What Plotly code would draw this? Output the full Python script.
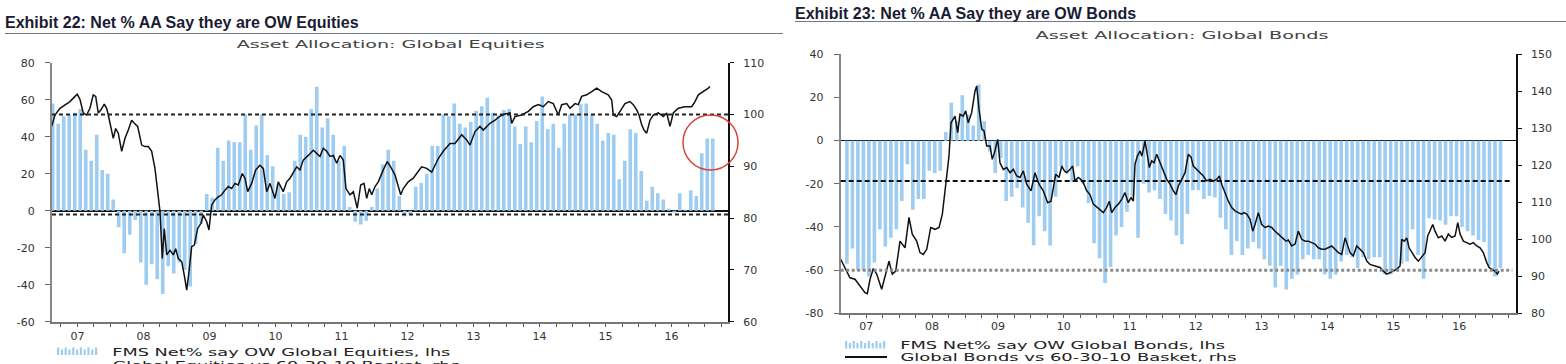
import pandas as pd
import plotly.graph_objects as go

W, H = 1566, 364

# ---------------- data ----------------
eq_months = pd.period_range("2007-02", "2017-02", freq="M")
eq_net_ow = [58, 47, 51, 52, 53, 55, 33, 27, 41, 22, 20, 6,
             -9, -23, -13, -5, -28, -40, -29, -37, -45, -30, -34, -28,
             -32, -41, -18, -7, 9, 7, 34, 27, 38, 37, 37, 52,
             33, 46, 52, 30, 24, 14, 9, 10, 27, 41, 40, 55,
             67, 45, 50, 41, 27, 35, 2, -6, -7.5, -5.5, 2, 12,
             25, 33, 27, 8, -3, -2, 13, 15, 20, 35, 35, 52,
             51, 58, 47, 45, 48, 54, 56.5, 61, 53, 51.5, 54.5, 55,
             45.5, 36, 45.5, 37, 48.5, 61.7, 44, 47, 34, 47, 52, 52,
             57.5, 58, 52, 47, 38, 42, 41, 17, 27, 44, 42, 21.5,
             5.4, 13, 9.4, 6, 1, -1, 9.4, 0.5, 11, 8, 31, 39,
             39]

eq_line_t = [2007.109, 2007.159, 2007.235, 2007.311, 2007.386, 2007.462, 2007.497, 2007.538, 2007.588, 2007.639,
             2007.689, 2007.739, 2007.776, 2007.815, 2007.856, 2007.906, 2007.942, 2007.967, 2008.008, 2008.042,
             2008.079, 2008.118, 2008.170, 2008.220, 2008.270, 2008.321, 2008.361, 2008.412, 2008.473, 2008.523,
             2008.573, 2008.624, 2008.674, 2008.715, 2008.750, 2008.785, 2008.815, 2008.852, 2008.902, 2008.952,
             2008.988, 2009.027, 2009.079, 2009.118, 2009.155, 2009.189, 2009.230, 2009.270, 2009.321, 2009.371,
             2009.406, 2009.458, 2009.492, 2009.533, 2009.583, 2009.633, 2009.685, 2009.735, 2009.785, 2009.836,
             2009.886, 2009.936, 2009.997, 2010.038, 2010.079, 2010.139, 2010.200, 2010.265, 2010.315, 2010.367,
             2010.417,
             2010.492, 2010.542, 2010.618, 2010.670, 2010.720, 2010.770, 2010.821, 2010.871, 2010.921, 2010.997,
             2011.073, 2011.124, 2011.174, 2011.224, 2011.276, 2011.326, 2011.376, 2011.427, 2011.477, 2011.527,
             2011.568, 2011.629, 2011.679, 2011.739, 2011.791, 2011.841, 2011.882, 2011.921, 2011.958, 2012.008,
             2012.058, 2012.133, 2012.194, 2012.245, 2012.311, 2012.397, 2012.436, 2012.512, 2012.588, 2012.639,
             2012.715, 2012.791, 2012.867, 2012.967, 2013.042, 2013.144, 2013.220, 2013.321, 2013.397, 2013.447,
             2013.523, 2013.598, 2013.648, 2013.750, 2013.826, 2013.891,
             2013.977, 2014.053, 2014.079, 2014.129, 2014.230, 2014.330, 2014.406, 2014.482, 2014.558, 2014.633,
             2014.709, 2014.785, 2014.836, 2014.912, 2014.962, 2015.038, 2015.088, 2015.139, 2015.215, 2015.291,
             2015.367, 2015.442, 2015.542, 2015.594, 2015.618, 2015.670, 2015.720, 2015.795, 2015.871, 2015.921,
             2015.973, 2016.008, 2016.048, 2016.083, 2016.124, 2016.174, 2016.224, 2016.300, 2016.376, 2016.427,
             2016.477, 2016.527, 2016.603, 2016.705, 2016.806, 2016.856, 2016.906, 2016.982, 2017.058, 2017.083]
eq_line_v = [97.7, 99.9, 101.2, 101.8, 102.5, 103.5, 103.9, 102.9, 100.3, 99.9,
             101.2, 103.8, 103.5, 100.3, 100.9, 102.0, 101.2, 99.9, 97.0, 95.4,
             97.3, 96.4, 92.9, 95.4, 97.0, 98.9, 98.3, 97.7, 94.1, 93.8,
             93.8, 92.9, 89.6, 85.7, 81.3, 72.2, 78.0, 72.9, 73.8, 72.9,
             74.1, 72.2, 71.6, 69.0, 66.1, 69.6, 74.5, 74.8, 78.0, 79.0,
             80.6, 79.3, 77.7, 82.5, 83.5, 84.1, 84.5, 85.4, 86.1, 85.7,
             86.7, 86.4, 88.6, 87.7, 85.1, 86.7, 89.3, 90.2, 89.6, 85.1,
             86.7,
             83.8, 87.0, 85.1, 87.0, 87.7, 88.9, 89.9, 89.3, 91.2, 92.1,
             93.1, 92.5, 91.9, 93.5, 92.9, 91.9, 92.1, 90.6, 92.1, 91.2,
             85.7, 84.5, 85.1, 81.9, 86.4, 86.7, 83.8, 85.7, 84.5, 86.1,
             87.0, 89.3, 90.9, 89.9, 88.3, 84.5, 85.7, 87.0, 87.7, 88.6,
             89.9, 89.6, 88.9, 91.5, 92.9, 94.4, 94.4, 96.1, 95.1, 94.1,
             96.7, 97.7, 97.0, 98.3, 98.9, 99.6,
             100.1, 100.3, 98.3, 99.6, 99.9, 100.6, 101.5, 101.9, 101.5, 102.5,
             102.1, 99.9, 101.9, 102.1, 101.2, 102.1, 101.9, 103.5, 103.8, 104.4,
             105.1, 104.4, 103.8, 102.8, 99.9, 99.6, 100.6, 102.1, 102.5, 101.9,
             100.9, 99.9, 98.0, 97.0, 96.4, 98.9, 99.9, 100.3, 99.6, 100.3,
             97.7, 100.3, 101.2, 101.5, 101.5, 102.5, 103.8, 104.4, 105.1, 105.4]

bd_months = pd.period_range("2007-03", "2017-02", freq="M")
bd_net_ow = [-57, -50, -60, -60, -63, -56.5, -41, -49, -45, -41, -28, -11,
             -32, -27, -27, -14, -15, -14, 4, 17.5, 9, 21, 12, 7,
             26, 9, -5, -15, -8, -28, -26, -22, -31, -38, -48.5, -35,
             -42, -48.6, -26, -12, -15, -19, -12, -20, -29, -47.6, -54.5, -66,
             -58.5, -44, -40, -33, -26, -45, -20, -24, -23, -27, -34, -37,
             -44, -48, -34, -23, -23, -27, -25.6, -26.4, -35.7, -41, -53, -46.5,
             -53, -50, -47, -50, -55, -58, -68, -58, -69, -64, -62, -55,
             -53, -55, -55, -62, -64, -62, -56, -53, -54, -59, -54, -55,
             -54, -54, -62, -62, -60, -57, -56, -41, -53, -64, -36, -36.5,
             -37, -39, -35, -35, -40, -42, -44, -46, -47, -58, -63, -59]

bd_line_t = [2007.114, 2007.179, 2007.255, 2007.331, 2007.407, 2007.483, 2007.518, 2007.559, 2007.609, 2007.660,
             2007.736, 2007.786, 2007.847, 2007.897, 2007.949, 2008.014, 2008.090, 2008.150, 2008.200, 2008.267,
             2008.317, 2008.367, 2008.419, 2008.480, 2008.545, 2008.606, 2008.656, 2008.697, 2008.722, 2008.757,
             2008.788, 2008.823, 2008.848, 2008.889, 2008.924, 2008.974, 2009.011, 2009.050, 2009.102, 2009.152,
             2009.178, 2009.213, 2009.254, 2009.289, 2009.329, 2009.380, 2009.414, 2009.455, 2009.496, 2009.531,
             2009.581, 2009.633, 2009.683, 2009.733, 2009.785, 2009.835, 2009.885, 2009.936, 2010.002, 2010.062,
             2010.123, 2010.188, 2010.255, 2010.305, 2010.340, 2010.377, 2010.427, 2010.468, 2010.507,
             2010.543, 2010.594, 2010.634, 2010.669, 2010.719, 2010.756, 2010.795, 2010.847, 2010.897, 2010.947,
             2011.008, 2011.049, 2011.099, 2011.150, 2011.190, 2011.226, 2011.276, 2011.326, 2011.378, 2011.428,
             2011.478, 2011.519, 2011.554, 2011.580, 2011.615, 2011.656, 2011.682, 2011.706, 2011.732, 2011.757,
             2011.797, 2011.833, 2011.868, 2011.909, 2011.959, 2012.009, 2012.061, 2012.111, 2012.161, 2012.202,
             2012.237, 2012.289, 2012.339, 2012.389, 2012.430, 2012.464, 2012.516, 2012.566, 2012.616, 2012.668,
             2012.718, 2012.768, 2012.820, 2012.859, 2012.895, 2012.946, 2012.996, 2013.047, 2013.097, 2013.147,
             2013.199, 2013.234, 2013.275, 2013.325, 2013.366, 2013.401, 2013.451, 2013.502, 2013.553, 2013.603,
             2013.654, 2013.704, 2013.754, 2013.806, 2013.871,
             2013.906, 2013.958, 2014.008, 2014.058, 2014.109, 2014.160, 2014.210, 2014.261, 2014.311, 2014.361,
             2014.413, 2014.463, 2014.513, 2014.565, 2014.615, 2014.665, 2014.716, 2014.767, 2014.792, 2014.842,
             2014.892, 2014.944, 2014.994, 2015.044, 2015.096, 2015.146, 2015.222, 2015.298, 2015.348, 2015.399,
             2015.449, 2015.499, 2015.551, 2015.601, 2015.627, 2015.666, 2015.703, 2015.738, 2015.779, 2015.829,
             2015.879, 2015.930, 2015.981, 2016.021, 2016.056, 2016.097, 2016.132, 2016.182, 2016.234, 2016.284,
             2016.334, 2016.386, 2016.436, 2016.477, 2016.512, 2016.562, 2016.613, 2016.663, 2016.713, 2016.765,
             2016.815, 2016.865, 2016.917, 2016.952, 2016.993, 2017.043, 2017.078, 2017.103]
bd_line_v = [94.6, 92.4, 89.6, 89.2, 87.4, 85.6, 85.3, 89.2, 92.1, 90.6,
             86.5, 89.6, 94.1, 90.6, 91.4, 99.5, 97.7, 105.9, 101.4, 99.5,
             96.4, 95.9, 97.3, 103.2, 102.7, 103.2, 106.8, 113.1, 117.6, 122.5,
             131.5, 132.4, 133.3, 128.8, 133.8, 133.3, 134.7, 131.5, 134.3, 140.1,
             141.4, 135.1, 129.8, 129.3, 125.2, 125.2, 121.6, 123.9, 127.0, 120.7,
             118.9, 119.4, 118.0, 118.9, 117.1, 116.7, 118.5, 114.9, 113.1, 118.0,
             114.9, 113.1, 109.9, 110.3, 113.9, 117.6, 116.7, 119.8, 118.5,
             118.0, 118.9, 119.8, 115.8, 116.7, 116.2, 115.3, 113.1, 112.1, 109.5,
             108.6, 108.1, 107.2, 108.6, 110.3, 107.2, 108.6, 109.5, 110.8, 112.6,
             109.9, 111.3, 110.3, 120.3, 122.5, 123.9, 122.5, 124.3, 126.6, 123.9,
             119.4, 121.2, 120.7, 123.0, 120.7, 118.5, 116.2, 114.9, 113.1, 112.1,
             114.4, 116.2, 118.0, 123.0, 122.2, 119.8, 118.9, 118.0, 117.1, 115.8,
             116.2, 115.8, 116.2, 117.1, 114.9, 112.6, 110.3, 108.6, 107.7, 107.2,
             106.8, 107.2, 106.8, 105.4, 102.2, 104.0, 107.2, 104.0, 103.2, 103.6,
             103.2, 102.2, 101.4, 100.5, 99.5,
             99.8, 98.2, 98.7, 102.2, 100.0, 99.5, 99.5, 99.1, 98.7, 97.7,
             97.3, 97.3, 97.7, 98.2, 97.3, 96.4, 95.9, 100.4, 99.1, 96.4,
             95.5, 98.2, 97.3, 96.4, 94.1, 93.2, 92.8, 92.4, 91.4, 90.6,
             91.0, 91.4, 91.9, 92.8, 100.0, 99.5, 100.4, 97.7, 96.4, 95.1,
             94.1, 95.1, 96.4, 100.9, 102.2, 104.0, 102.2, 100.4, 100.9, 99.5,
             101.4, 100.5, 100.9, 104.5, 101.4, 99.5, 99.1, 98.7, 99.1, 98.2,
             97.7, 96.4, 93.7, 92.4, 91.9, 91.4, 90.6, 91.4]

year_ticks = [2007.5, 2008.5, 2009.5, 2010.5, 2011.5, 2012.5, 2013.5, 2014.5, 2015.5, 2016.5]
year_labels = ["07", "08", "09", "10", "11", "12", "13", "14", "15", "16"]
eq_lhs_ticks = [-60, -40, -20, 0, 20, 40, 60, 80]
eq_rhs_ticks = [60, 70, 80, 90, 100, 110]
bd_lhs_ticks = [-80, -60, -40, -20, 0, 20, 40]
bd_rhs_ticks = [80, 90, 100, 110, 120, 130, 140, 150]
eq_ref_rhs, eq_ref_lhs = 100, -2          # dashed reference levels (left chart)
bd_ref_dash, bd_ref_dot = -18.7, -60      # dashed / dotted reference levels (right chart)

titles = ["Exhibit 22: Net % AA Say they are OW Equities", "Exhibit 23: Net % AA Say they are OW Bonds"]
subtitles = ["Asset Allocation: Global Equities", "Asset Allocation: Global Bonds"]
legend_txt = [["FMS Net% say OW Global Equities, lhs", "Global Equities vs 60-30-10 Basket, rhs"],
              ["FMS Net% say OW Global Bonds, lhs", "Global Bonds vs 60-30-10 Basket, rhs"]]

# ---------------- helpers ----------------
def month_pos(periods):
    return [p.year + (p.month - 0.5) / 12 for p in periods]

def px(x):
    return x / W

def py(y):
    return 1 - y / H

BAR = "#9FCDF1"
XR = [2007.114, 2017.356]
TICKFONT = dict(family="DejaVu Sans", size=11, color="#333")

fig = go.Figure()
fig.add_trace(go.Bar(x=month_pos(eq_months), y=eq_net_ow, width=0.055, marker=dict(color=BAR, line=dict(width=0)),
                     xaxis="x", yaxis="y", name=legend_txt[0][0]))
fig.add_trace(go.Scatter(x=eq_line_t, y=eq_line_v, mode="lines", line=dict(color="#111", width=1.5),
                         xaxis="x", yaxis="y2", name=legend_txt[0][1]))
fig.add_trace(go.Bar(x=month_pos(bd_months), y=bd_net_ow, width=0.055, marker=dict(color=BAR, line=dict(width=0)),
                     xaxis="x2", yaxis="y3", name=legend_txt[1][0]))
fig.add_trace(go.Scatter(x=bd_line_t, y=bd_line_v, mode="lines", line=dict(color="#111", width=1.5),
                         xaxis="x2", yaxis="y4", name=legend_txt[1][1]))

def xaxis_cfg(domain, anchor, standoff):
    return dict(domain=domain, anchor=anchor, range=XR, tickmode="array", tickvals=year_ticks,
                ticktext=year_labels, ticks="", showline=True, linecolor="#777", linewidth=2,
                showgrid=False, zeroline=False, tickfont=TICKFONT, ticklabelstandoff=standoff,
                automargin=False,
                minor=dict(tickmode="linear", tick0=2007, dtick=0.25, ticks="outside", ticklen=3,
                           tickcolor="#555", tickwidth=1, showgrid=False))

def lhs_cfg(domain, anchor, rng, ticks, zw):
    return dict(domain=domain, anchor=anchor, range=rng, tickmode="array", tickvals=ticks,
                ticktext=[str(t) for t in ticks], ticks="outside", ticklen=5, tickcolor="#666",
                showline=True, linecolor="#888", linewidth=2, showgrid=False, zeroline=True,
                zerolinecolor="#111", zerolinewidth=zw, tickfont=TICKFONT, ticklabelstandoff=8,
                automargin=False)

def rhs_cfg(overlay, anchor, rng, ticks):
    return dict(overlaying=overlay, anchor=anchor, side="right", range=rng, tickmode="array",
                tickvals=ticks, ticktext=[str(t) for t in ticks], ticks="outside", ticklen=4,
                tickcolor="#111", showline=True, linecolor="#111", linewidth=2, showgrid=False,
                zeroline=False, tickfont=TICKFONT, ticklabelstandoff=7, automargin=False)

fig.update_layout(
    width=W, height=H, margin=dict(l=0, r=0, t=0, b=0, pad=0, autoexpand=False), autosize=False,
    paper_bgcolor="white", plot_bgcolor="white", showlegend=False,
    xaxis=xaxis_cfg([px(52), px(728)], "y", 3),
    yaxis=lhs_cfg([py(321.7), py(62.7)], "x", [-60, 80], eq_lhs_ticks, 2),
    yaxis2=rhs_cfg("y", "x", [60, 110], eq_rhs_ticks),
    xaxis2=xaxis_cfg([px(840.7), px(1515.7)], "y3", 1),
    yaxis3=lhs_cfg([py(313.3), py(54.3)], "x2", [-80, 40], bd_lhs_ticks, 1),
    yaxis4=rhs_cfg("y3", "x2", [80, 150], bd_rhs_ticks),
)

shapes = []
# reference lines
shapes.append(dict(type="line", xref="x domain", x0=0, x1=1, yref="y2", y0=eq_ref_rhs, y1=eq_ref_rhs,
                   line=dict(color="#222", width=2, dash="4px,3px")))
shapes.append(dict(type="line", xref="x domain", x0=0, x1=1, yref="y", y0=eq_ref_lhs, y1=eq_ref_lhs,
                   line=dict(color="#222", width=2, dash="4px,3px")))
shapes.append(dict(type="line", xref="x2 domain", x0=0, x1=0.995, yref="y3", y0=bd_ref_dash, y1=bd_ref_dash,
                   line=dict(color="#111", width=2, dash="5px,3px")))
shapes.append(dict(type="line", xref="x2 domain", x0=0, x1=0.995, yref="y3", y0=bd_ref_dot, y1=bd_ref_dot,
                   line=dict(color="#8a8a8a", width=3, dash="3px,2.5px")))
# highlight circle
shapes.append(dict(type="circle", xref="paper", yref="paper", x0=px(683), x1=px(738), y0=py(170), y1=py(115),
                   line=dict(color="#D8453B", width=1.5)))
# title rules
shapes.append(dict(type="line", xref="paper", yref="paper", x0=px(5), x1=px(783), y0=py(33.5), y1=py(33.5),
                   line=dict(color="#6f7a88", width=1)))
shapes.append(dict(type="line", xref="paper", yref="paper", x0=px(795), x1=1, y0=py(21.5), y1=py(21.5),
                   line=dict(color="#6f7a88", width=1)))
# legend icons
for x_start, y_mid in [(57, 351.5), (845, 345)]:
    for i in range(11):
        xs = x_start + i * 3.8
        top = y_mid - 4 if i % 2 == 0 else y_mid - 2
        shapes.append(dict(type="rect", xref="paper", yref="paper", x0=px(xs), x1=px(xs + 2.2),
                           y0=py(y_mid + 3.5), y1=py(top), line=dict(width=0), fillcolor=BAR))
for x_start, y_mid in [(57, 366), (845, 357)]:
    shapes.append(dict(type="line", xref="paper", yref="paper", x0=px(x_start), x1=px(x_start + 42),
                       y0=py(y_mid), y1=py(y_mid), line=dict(color="#111", width=2)))
fig.update_layout(shapes=shapes)

ann = []
ann.append(dict(text="<b>" + titles[0] + "</b>", x=px(3), y=py(22.7), xanchor="left", yanchor="middle",
                font=dict(family="Liberation Sans, Arial", size=16, color="#1b1b33")))
ann.append(dict(text="<b>" + titles[1] + "</b>", x=px(793), y=py(13.4), xanchor="left", yanchor="middle",
                font=dict(family="Liberation Sans, Arial", size=16, color="#1b1b33")))
ann.append(dict(text=subtitles[0], x=px(390), y=py(43.5), xanchor="center", yanchor="middle",
                font=dict(family="DejaVu Sans", size=10.5, color="#444")))
ann.append(dict(text=subtitles[1], x=px(1181.5), y=py(35), xanchor="center", yanchor="middle",
                font=dict(family="DejaVu Sans", size=10.5, color="#444")))
ann.append(dict(text=legend_txt[0][0], x=px(281), y=py(351.5), xanchor="center", yanchor="middle",
                font=dict(family="DejaVu Sans", size=10.5, color="#222")))
ann.append(dict(text=legend_txt[0][1], x=px(286), y=py(364.5), xanchor="center", yanchor="middle",
                font=dict(family="DejaVu Sans", size=10.5, color="#222")))
ann.append(dict(text=legend_txt[1][0], x=px(1062.5), y=py(345), xanchor="center", yanchor="middle",
                font=dict(family="DejaVu Sans", size=10.5, color="#222")))
ann.append(dict(text=legend_txt[1][1], x=px(1068), y=py(356.5), xanchor="center", yanchor="middle",
                font=dict(family="DejaVu Sans", size=10.5, color="#222")))
for a in ann:
    a.update(xref="paper", yref="paper", showarrow=False)
fig.update_layout(annotations=ann)

# page without body margin; the source uses horizontally stretched lettering for captions
post = """
document.documentElement.style.margin = '0';
document.documentElement.style.overflow = 'hidden';
document.body.style.margin = '0';
document.body.style.padding = '0';
document.body.style.overflow = 'hidden';
var gd = document.getElementById('{plot_id}');
var targets = {
  "Asset Allocation: Global Equities": 308,
  "Asset Allocation: Global Bonds": 293,
  "FMS Net% say OW Global Equities, lhs": 338,
  "Global Equities vs 60-30-10 Basket, rhs": 347,
  "FMS Net% say OW Global Bonds, lhs": 325,
  "Global Bonds vs 60-30-10 Basket, rhs": 336
};
gd.querySelectorAll('text').forEach(function(t){
  var s = t.textContent;
  if (Object.prototype.hasOwnProperty.call(targets, s)) {
    t.setAttribute('textLength', targets[s]);
    t.setAttribute('lengthAdjust', 'spacingAndGlyphs');
  }
});
"""
fig.write_html("out.html", post_script=post, config={"responsive": False, "displayModeBar": False})
